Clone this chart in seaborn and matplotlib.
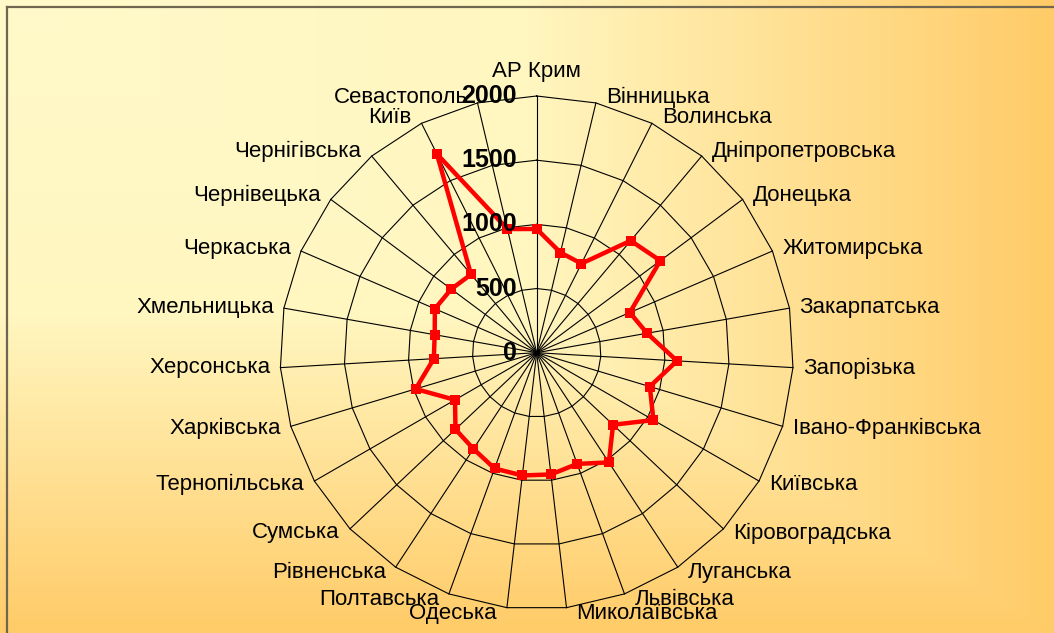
import numpy as np
import pandas as pd
import matplotlib
matplotlib.use("Agg")
import matplotlib.pyplot as plt
import seaborn as sns
from matplotlib.colors import LinearSegmentedColormap
from matplotlib.lines import Line2D

# ---------------- data ----------------
categories = ["АР Крим", "Вінницька", "Волинська", "Дніпропетровська", "Донецька",
              "Житомирська", "Закарпатська", "Запорізька", "Івано-Франківська",
              "Київська", "Кіровоградська", "Луганська", "Львівська", "Миколаївська",
              "Одеська", "Полтавська", "Рівненська", "Сумська", "Тернопільська",
              "Харківська", "Херсонська", "Хмельницька", "Черкаська", "Чернівецька",
              "Чернігівська", "Київ", "Севастополь"]
values = [964, 802, 777, 1139, 1201, 790, 873, 1095, 920, 1050, 818, 1023, 922, 955,
          963, 960, 897, 870, 735, 985, 803, 807, 864, 830, 796, 1733, 990]
r_ticks = [0, 500, 1000, 1500, 2000]
r_max = 2000

# ---------------- figure ----------------
W, H = 1054, 633
plt.rcParams["font.family"] = ["Liberation Sans", "DejaVu Sans"]
fig = plt.figure(figsize=(W / 100, H / 100), dpi=100)

# background gradient (pale top-left corner -> orange)
bg = fig.add_axes([0, 0, 1, 1], zorder=-10)
X, Y = np.meshgrid(np.linspace(0, 1, W), np.linspace(0, 1, H))
T = np.maximum(X, Y)
cmap = LinearSegmentedColormap.from_list("bg", ["#FFFACA", "#FFF6C0", "#FFCB68"], N=256)
bg.imshow(T, cmap=cmap, aspect="auto", extent=[0, 1, 0, 1], origin="upper", vmin=0, vmax=1)
bg.set_xlim(0, 1); bg.set_ylim(0, 1)
bg.axis("off")

# frame lines (top and left)
fx = 7 / W
fy = 1 - 7 / H
fig.add_artist(Line2D([fx, 1], [fy, fy], transform=fig.transFigure, color="#6E6650", lw=1.6))
fig.add_artist(Line2D([fx, fx], [0, fy], transform=fig.transFigure, color="#6E6650", lw=1.6))

# polar axes
cx, cy, R = 536.7, 352.7, 256.7
ax = fig.add_axes([(cx - R) / W, (H - cy - R) / H, 2 * R / W, 2 * R / H], projection="polar")
ax.set_theta_zero_location("N")
ax.set_theta_direction(-1)
ax.patch.set_alpha(0)
ax.grid(False)
ax.spines["polar"].set_visible(False)

n = len(categories)
theta = np.arange(n) * 2 * np.pi / n
theta_closed = np.append(theta, 2 * np.pi)

# polygon grid
for lvl in r_ticks[1:]:
    ax.plot(theta_closed, [lvl] * (n + 1), color="black", lw=0.8, clip_on=False, zorder=1)
for t in theta:
    ax.plot([t, t], [0, r_max], color="black", lw=0.8, clip_on=False, zorder=1)

# data line
df = pd.DataFrame({"theta": theta_closed, "value": values + [values[0]]})
sns.lineplot(data=df, x="theta", y="value", ax=ax, sort=False, color="#FF0000",
             linewidth=3.2, marker="s", markersize=7, markeredgewidth=0,
             markerfacecolor="#FF0000", zorder=5, clip_on=False)

ax.set_xlabel("")
ax.set_ylabel("")
ax.set_xticks([])
ax.set_yticks([])
ax.set_ylim(0, r_max)

px = 0.72  # points per pixel
# category labels
for t, cat in zip(theta, categories):
    s, c = np.sin(t), np.cos(t)
    if abs(s) < 0.05:
        ha, dx, dy, va = "center", 0, 24 if c > 0 else -24, "center"
    else:
        ha = "left" if s > 0 else "right"
        dx = 10 if s > 0 else -10
        dy = 6 * c
        va = "center"
    ax.annotate(cat, xy=(t, r_max), xytext=(dx * px, dy * px), textcoords="offset points",
                ha=ha, va=va, fontsize=16, color="black", annotation_clip=False, zorder=6)

# radial labels
for v in r_ticks:
    ax.annotate(str(v), xy=(0, v), xytext=(-20 * px, 0), textcoords="offset points",
                ha="right", va="center", fontsize=18, fontweight="bold", color="black",
                annotation_clip=False, zorder=7)

fig.savefig("out.png", dpi=100)
